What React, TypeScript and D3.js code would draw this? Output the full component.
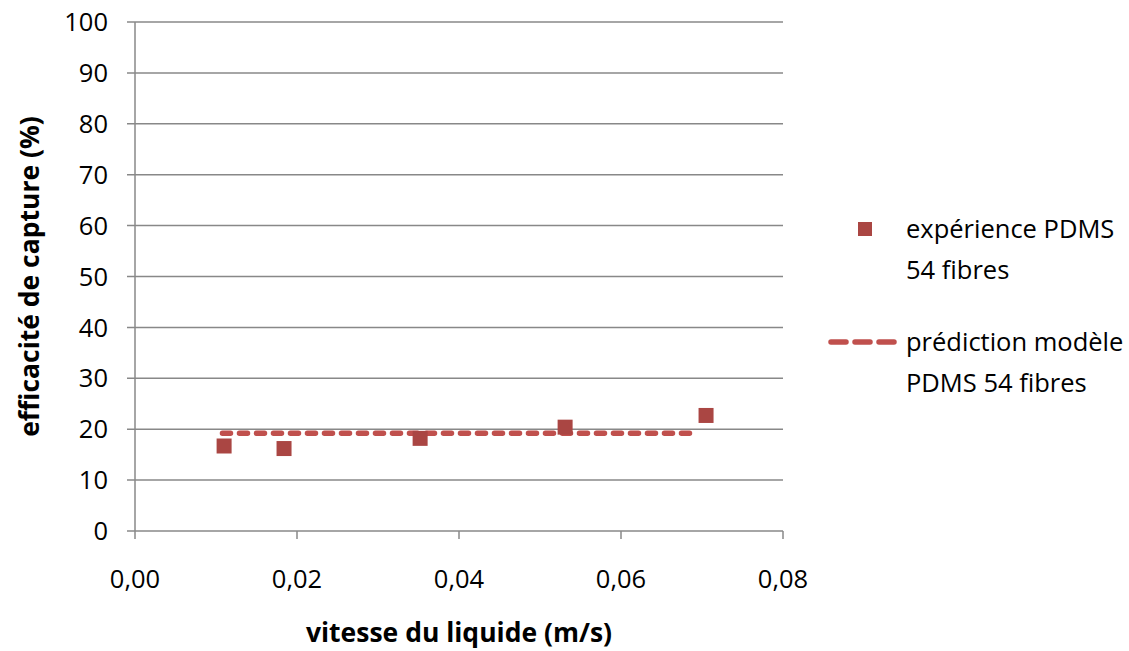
import React from "react";
import * as d3 from "d3";

// experience points (m/s, %)
const expX = [0.011, 0.0184, 0.0352, 0.0531, 0.0705];
const expY = [16.7, 16.2, 18.2, 20.4, 22.7];
// model prediction
const predX = [0.0108, 0.0184, 0.0352, 0.0531, 0.0695];
const predY = [19.2, 19.2, 19.2, 19.2, 19.2];

const xTicks = [0, 0.02, 0.04, 0.06, 0.08];
const yTicks = [0, 10, 20, 30, 40, 50, 60, 70, 80, 90, 100];

const legendLabels = [
  ["expérience PDMS", "54 fibres"],
  ["prédiction modèle", "PDMS 54 fibres"],
];

const W = 1129;
const H = 651;
const margin = { top: 22, right: 346, bottom: 120, left: 135 };
const font = "'Open Sans', sans-serif";

export default function App() {
  const x = d3.scaleLinear().domain([0, 0.08]).range([margin.left, W - margin.right]);
  const y = d3.scaleLinear().domain([0, 100]).range([H - margin.bottom, margin.top]);
  const fmt = (v: number) => v.toFixed(2).replace(".", ",");
  const line = d3.line<number>().x((d, i) => x(predX[i])).y(d => y(d));
  const grid = "#888888";
  const red = "#AA4643";
  const dashRed = "#C0504D";
  const y0 = y(0);

  return (
    <svg width={W} height={H} style={{ position: "absolute", left: 0, top: 0, background: "#fff" }}>
      {yTicks.map(t => (
        <g key={t}>
          <line x1={x(0) - 8} x2={x(0.08)} y1={y(t)} y2={y(t)} stroke={grid} strokeWidth={1.5} />
          <text x={x(0) - 27} y={y(t)} dy="0.36em" textAnchor="end" fontFamily={font} fontSize={25.5}>
            {t}
          </text>
        </g>
      ))}
      <line x1={x(0)} x2={x(0)} y1={y(100)} y2={y0} stroke={grid} strokeWidth={1.5} />
      {xTicks.map(t => (
        <g key={t}>
          <line x1={x(t)} x2={x(t)} y1={y0} y2={y0 + 8} stroke={grid} strokeWidth={1.5} />
          <text x={x(t)} y={y0 + 57} textAnchor="middle" fontFamily={font} fontSize={25.5}>
            {fmt(t)}
          </text>
        </g>
      ))}
      <path
        d={line(predY) || ""}
        fill="none"
        stroke={dashRed}
        strokeWidth={5.5}
        strokeDasharray="8,9"
        strokeLinecap="round"
      />
      {expX.map((v, i) => (
        <rect key={i} x={x(v) - 7.5} y={y(expY[i]) - 7.5} width={15} height={15} fill={red} />
      ))}
      <text
        transform={`translate(39,${(y(100) + y0) / 2}) rotate(-90)`}
        textAnchor="middle"
        fontFamily={font}
        fontSize={26.5}
        fontWeight="bold"
      >
        efficacité de capture (%)
      </text>
      <text x={(x(0) + x(0.08)) / 2} y={642} textAnchor="middle" fontFamily={font} fontSize={26.5} fontWeight="bold">
        vitesse du liquide (m/s)
      </text>
      {/* legend */}
      <rect x={858} y={222} width={14} height={14} fill={red} />
      <line x1={831} x2={897} y1={342} y2={342} stroke={dashRed} strokeWidth={5.5} strokeDasharray="15,9" strokeLinecap="round" />
      {legendLabels.map((lines, i) =>
        lines.map((s, j) => (
          <text key={`${i}-${j}`} x={906} y={229 + i * 113 + j * 41} dy="0.36em" fontFamily={font} fontSize={25.5}>
            {s}
          </text>
        ))
      )}
    </svg>
  );
}
